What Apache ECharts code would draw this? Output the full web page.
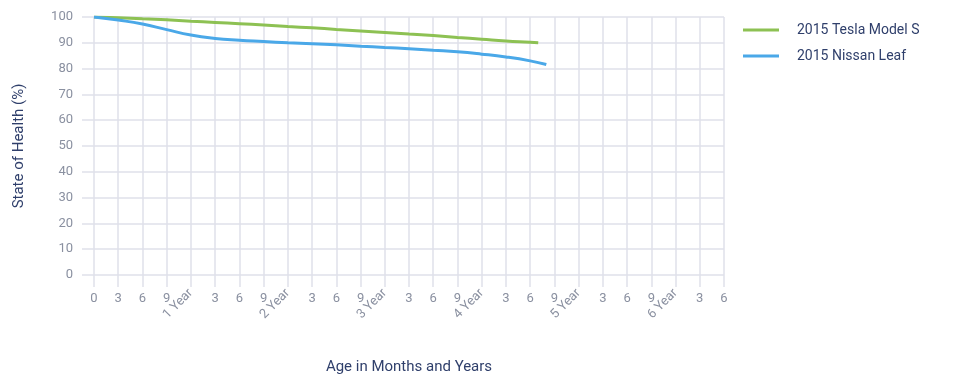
<!DOCTYPE html>
<html>
<head>
<meta charset="utf-8">
<script src="https://cdn.jsdelivr.net/npm/echarts@6/dist/echarts.min.js"></script>
<style>
  html, body { margin: 0; padding: 0; background: #fff; }
  #chart { width: 953px; height: 378px; }
</style>
</head>
<body>
<div id="chart"></div>
<script>
// months since new, state of health (%)
const teslaMonths = [0, 3, 6, 9, 12, 15, 18, 21, 24, 27, 30, 33, 36, 39, 42, 45, 48, 51, 54, 55];
const teslaHealth = [100, 99.7, 99.3, 98.9, 98.4, 97.9, 97.4, 96.9, 96.3, 95.8, 95.2, 94.6, 94.0, 93.4, 92.8, 92.1, 91.4, 90.7, 90.2, 90.0];
const leafMonths = [0, 3, 6, 9, 12, 15, 18, 21, 24, 27, 30, 33, 36, 39, 42, 45, 48, 51, 54, 56];
const leafHealth = [100, 98.8, 97.3, 95.1, 93.0, 91.7, 91.0, 90.5, 90.0, 89.6, 89.2, 88.7, 88.2, 87.7, 87.1, 86.5, 85.6, 84.5, 83.0, 81.6];
const seriesNames = ['2015 Tesla Model S', '2015 Nissan Leaf'];
const yTicks = [0, 100, 10]; // min, max, step
const xTicks = [0, 78, 3];   // months

const gridColor = '#dfe1ea';
const labelColor = '#8a90a0';
const textColor = '#2f3f6b';

function monthLabel(v) {
  return (v > 0 && v % 12 === 0) ? '' : String(v % 12);
}
function yearLabel(v) {
  return (v > 0 && v % 12 === 0) ? (v / 12) + ' Year' : '';
}

const chart = echarts.init(document.getElementById('chart'));
chart.setOption({
  animation: false,
  textStyle: { fontFamily: 'Roboto' },
  grid: { left: 94, right: 229, top: 17, bottom: 103, outerBoundsMode: 'none' },
  legend: {
    orient: 'vertical',
    left: 738,
    top: 17,
    icon: 'rect',
    itemWidth: 36,
    itemHeight: 3,
    itemGap: 10,
    data: seriesNames,
    textStyle: { color: textColor, fontSize: 14, lineHeight: 16, padding: [0, 0, 0, 13] }
  },
  xAxis: [{
    type: 'value',
    min: xTicks[0], max: xTicks[1], interval: xTicks[2],
    name: 'Age in Months and Years',
    nameLocation: 'middle',
    nameGap: 85,
    nameTextStyle: { color: textColor, fontSize: 15 },
    axisLine: { show: false },
    axisTick: { show: true, length: 12, lineStyle: { color: gridColor, width: 1.5 } },
    splitLine: { show: true, lineStyle: { color: gridColor, width: 1.5 } },
    axisLabel: { color: labelColor, fontSize: 13, margin: 17, formatter: monthLabel }
  }, {
    type: 'value',
    position: 'bottom',
    min: xTicks[0], max: xTicks[1], interval: xTicks[2],
    axisLine: { show: false },
    axisTick: { show: false },
    splitLine: { show: false },
    axisLabel: { color: labelColor, fontSize: 13, margin: 16, rotate: 45, formatter: yearLabel }
  }],
  yAxis: {
    type: 'value',
    min: yTicks[0], max: yTicks[1], interval: yTicks[2],
    name: 'State of Health (%)',
    nameLocation: 'middle',
    nameGap: 67,
    nameTextStyle: { color: textColor, fontSize: 15 },
    axisLine: { show: false },
    axisTick: { show: true, length: 12, lineStyle: { color: gridColor, width: 1.5 } },
    splitLine: { show: true, lineStyle: { color: gridColor, width: 1.5 } },
    axisLabel: { color: labelColor, fontSize: 13, margin: 21 }
  },
  series: [{
    name: seriesNames[0],
    type: 'line',
    smooth: true,
    symbol: 'none',
    color: '#8dc153',
    lineStyle: { width: 3, color: '#8dc153' },
    data: teslaMonths.map((m, i) => [m, teslaHealth[i]])
  }, {
    name: seriesNames[1],
    type: 'line',
    smooth: true,
    symbol: 'none',
    color: '#4aa8e8',
    lineStyle: { width: 3, color: '#4aa8e8' },
    data: leafMonths.map((m, i) => [m, leafHealth[i]])
  }]
});
</script>
</body>
</html>
